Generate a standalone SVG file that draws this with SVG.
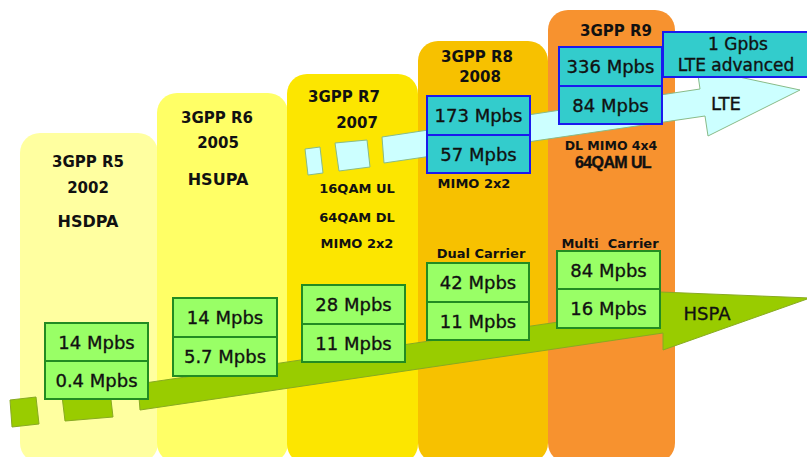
<svg xmlns="http://www.w3.org/2000/svg" width="807" height="457" viewBox="0 0 807 457">
<style>
.gb{fill:#99FF66;stroke:#228B22;stroke-width:2}
.bb{fill:#33CCCC;stroke:#1a1aee;stroke-width:2}
.ga{fill:#99CC00;stroke:#88AA22;stroke-width:1}
.ca{fill:#CCFFFF;stroke:#88BB88;stroke-width:1}
text{font-family:"DejaVu Sans",sans-serif;fill:#111;text-anchor:middle}
.v{font-size:18px;stroke:#111;stroke-width:0.35}
.h{font-size:15px;font-weight:bold}
.h2{font-size:16px;font-weight:bold}
.s{font-size:13px;font-weight:bold}
.ar{font-family:"Liberation Sans",Arial,sans-serif;font-size:16px;font-weight:bold;letter-spacing:-0.6px;stroke:#111;stroke-width:0.4}
</style>
<rect width="807" height="457" fill="#ffffff"/>
<g id="R5">
<rect x="20" y="133" width="138" height="330" rx="20" fill="#FFFFA0"/>
</g>
<g id="R6">
<rect x="157" y="93" width="131" height="370" rx="20" fill="#FFFF66"/>
</g>
<g id="R7">
<rect x="287" y="74" width="131" height="390" rx="20" fill="#FCE600"/>
</g>
<g id="R8">
<rect x="418" y="41" width="130" height="422" rx="20" fill="#F7C100"/>
</g>
<g id="R9">
<rect x="548" y="10" width="127" height="453" rx="20" fill="#F7922F"/>
</g>
<g id="connectors">
<polygon class="ga" points="138,384 660,307 660,292 810,298 663,350 663,333 140,410"/>
<polygon class="ga" points="10,400 36,397 39,424 12,427"/>
<polygon class="ga" points="62,396 110,391 113,417 65,421"/>
<polygon class="ca" points="382,137 700,89 697,68 800,90 708,136 705,116 384,163"/>
<polygon class="ca" points="305,149 320,147 323,173 308,175"/>
<polygon class="ca" points="335,143 367,140 370,167 339,171"/>
</g>
<g id="R5-labels">
<text class="h" x="88" y="167">3GPP R5</text>
<text class="h" x="88" y="193">2002</text>
<text class="h2" x="88" y="227">HSDPA</text>
</g>
<g id="R5-boxes">
<rect class="gb" x="45" y="323" width="103" height="38"/>
<rect class="gb" x="45" y="361" width="103" height="38"/>
<text class="v" x="96.5" y="349">14 Mpbs</text>
<text class="v" x="96.5" y="387">0.4 Mpbs</text>
</g>
<g id="R6-labels">
<text class="h" x="217" y="123">3GPP R6</text>
<text class="h" x="218" y="148">2005</text>
<text class="h2" x="218" y="185">HSUPA</text>
</g>
<g id="R6-boxes">
<rect class="gb" x="173" y="298" width="104" height="39"/>
<rect class="gb" x="173" y="337" width="104" height="39"/>
<text class="v" x="225" y="324">14 Mpbs</text>
<text class="v" x="225" y="363">5.7 Mpbs</text>
</g>
<g id="R7-labels">
<text class="h" x="344" y="102">3GPP R7</text>
<text class="h" x="357" y="128">2007</text>
<text class="s" x="357" y="193">16QAM UL</text>
<text class="s" x="357" y="222">64QAM DL</text>
<text class="s" x="357" y="248">MIMO 2x2</text>
</g>
<g id="R7-boxes">
<rect class="gb" x="302" y="285" width="103" height="39"/>
<rect class="gb" x="302" y="324" width="103" height="38"/>
<text class="v" x="353.5" y="311">28 Mpbs</text>
<text class="v" x="353.5" y="350">11 Mpbs</text>
</g>
<g id="R8-labels">
<text class="h" x="477" y="62">3GPP R8</text>
<text class="h" x="480" y="82">2008</text>
<text class="s" x="474" y="188">MIMO 2x2</text>
<text class="s" x="481" y="258">Dual Carrier</text>
</g>
<g id="R8-lte">
<rect class="bb" x="427" y="96" width="103" height="39"/>
<rect class="bb" x="427" y="135" width="103" height="38"/>
<text class="v" x="478.5" y="122">173 Mpbs</text>
<text class="v" x="478.5" y="161">57 Mpbs</text>
</g>
<g id="R8-hspa">
<rect class="gb" x="427" y="263" width="102" height="39"/>
<rect class="gb" x="427" y="302" width="102" height="38"/>
<text class="v" x="478" y="289">42 Mpbs</text>
<text class="v" x="478" y="328">11 Mpbs</text>
</g>
<g id="R9-labels">
<text class="h" x="616" y="36">3GPP R9</text>
<text class="s" x="611" y="150" style="font-size:12.5px">DL MIMO 4x4</text>
<text class="ar" x="613" y="168">64QAM UL</text>
<text class="s" x="610" y="248">Multi&#160; Carrier</text>
</g>
<g id="R9-lte">
<rect class="bb" x="559" y="47" width="103" height="39"/>
<rect class="bb" x="559" y="86" width="103" height="38"/>
<text class="v" x="610.5" y="73">336 Mpbs</text>
<text class="v" x="610.5" y="112">84 Mpbs</text>
</g>
<g id="R9-hspa">
<rect class="gb" x="557" y="251" width="103" height="38"/>
<rect class="gb" x="557" y="289" width="103" height="39"/>
<text class="v" x="608.5" y="277">84 Mpbs</text>
<text class="v" x="608.5" y="315">16 Mpbs</text>
</g>
<g id="LTE-advanced">
<rect class="bb" x="663" y="32" width="150" height="45"/>
<text class="v" x="738" y="50" style="font-size:17px">1 Gpbs</text>
<text class="v" x="736" y="71" style="font-size:17px">LTE advanced</text>
</g>
<g id="LTE-label">
<text class="v" x="726" y="110">LTE</text>
</g>
<g id="HSPA-label">
<text class="v" x="707" y="320">HSPA</text>
</g>
</svg>
